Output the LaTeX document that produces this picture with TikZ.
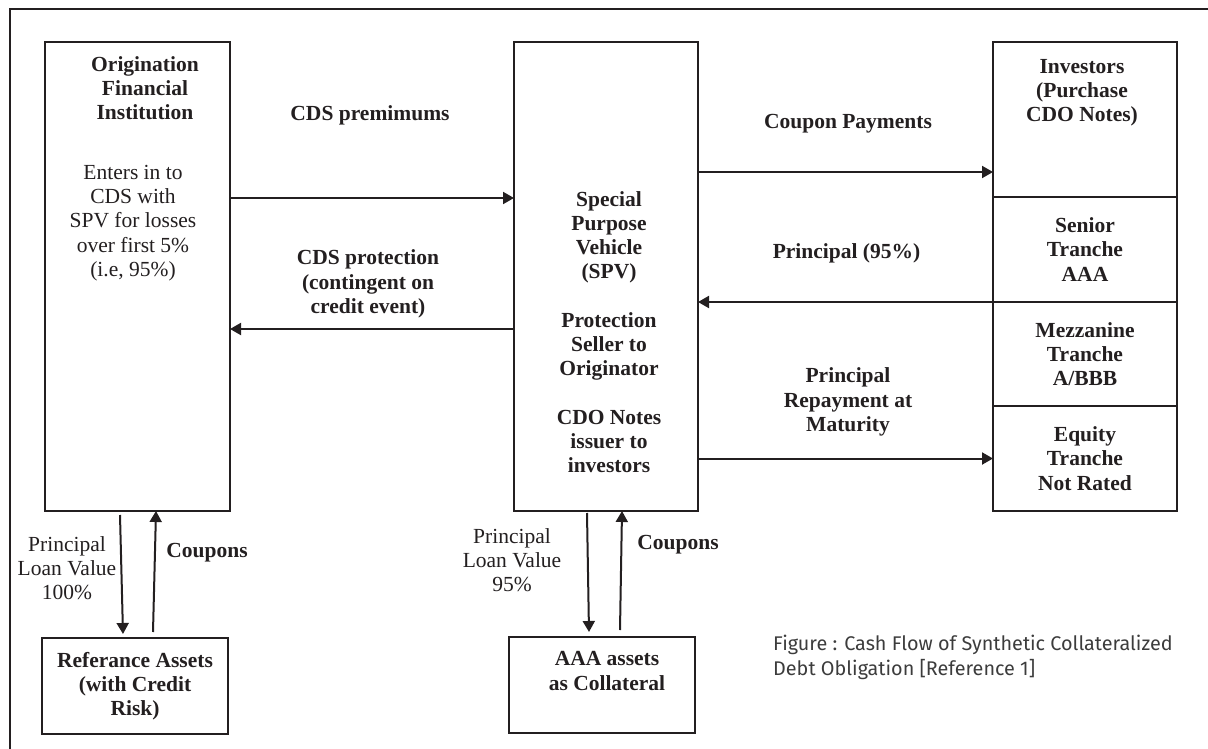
\documentclass[tikz,border=0pt]{standalone}
\usepackage{fontspec}
\setmainfont{Liberation Serif}
\newfontfamily\capfont{Fira Sans}
\usetikzlibrary{arrows.meta,positioning,calc}
\definecolor{ink}{RGB}{35,31,32}
\definecolor{capgray}{RGB}{60,60,60}
\newcommand{\diagfont}{\fontsize{21.5}{24.2}\selectfont}

\begin{document}
\begin{tikzpicture}[
    x=1pt, y=-1pt,
    box/.style={rectangle, draw=ink, line width=2.2pt, outer sep=0pt, inner sep=0pt, align=center, font=\diagfont\bfseries, text=ink},
    txt/.style={align=center, font=\diagfont, text=ink, inner sep=0pt},
    lbl/.style={align=center, font=\diagfont\bfseries, text=ink, inner sep=0pt},
    flow/.style={-{Triangle[length=11pt,width=12pt]}, line width=2pt, draw=ink}
]
\useasboundingbox (0,0) rectangle (1208,749);

% Frame
\draw[line width=2.2pt, draw=ink] (10,749) -- (10,9) -- (1208,9);

% Main boxes
\node[box, minimum width=185pt, minimum height=469pt] (orig) at (137.5,276.5) {};
\node[box, minimum width=184pt, minimum height=469pt] (spv) at (606,276.5) {};
\node[box, minimum width=184pt, minimum height=155pt, anchor=north west] (inv) at (993,42) {};
\node[box, minimum width=184pt, minimum height=105pt, below=0pt of inv] (senior) {Senior\\Tranche\\AAA};
\node[box, minimum width=184pt, minimum height=104pt, below=0pt of senior] (mezz) {Mezzanine\\Tranche\\A/BBB};
\node[box, minimum width=184pt, minimum height=105pt, below=0pt of mezz] (equity) {Equity\\Tranche\\Not Rated};
\node[box, minimum width=186pt, minimum height=96pt] (ref) at (135,686) {Referance Assets\\(with Credit\\Risk)};
\node[box, minimum width=186pt, minimum height=96pt] (aaa) at (602,685) {};

% Box texts
\node[lbl] (origtitle) at (145,88) {Origination\\Financial\\Institution};
\node[txt] (origbody) at (133,223) {Enters in to\\CDS with\\SPV for losses\\over first 5\%\\(i.e, 95\%)};
\node[lbl] (spvtext) at (609,332) {Special\\Purpose\\Vehicle\\(SPV)\\[24.2pt]Protection\\Seller to\\Originator\\[24.2pt]CDO Notes\\issuer to\\investors};
\node[lbl] (invtext) at (1082,93) {Investors\\(Purchase\\CDO Notes)};
\node[lbl] (aaatext) at (607,671) {AAA assets\\as Collateral};

% Arrows
\draw[flow] ([yshift=78.5pt]orig.east) -- ([yshift=78.5pt]spv.west);
\draw[flow] ([yshift=-52.5pt]spv.west) -- ([yshift=-52.5pt]orig.east);
\draw[flow] ([yshift=104.5pt]spv.east) -- ([yshift=-52.5pt]inv.west);
\draw[flow] (senior.south west) -- (spv.east |- senior.south west);
\draw[flow] (spv.east |- equity.west) -- (equity.west);
\draw[flow] ([xshift=-17.5pt,yshift=-4pt]orig.south) -- ([xshift=-12pt,yshift=4pt]ref.north);
\draw[flow] ([xshift=18pt,yshift=6pt]ref.north) -- ([xshift=18.5pt]orig.south);
\draw[flow] ([xshift=-19pt,yshift=-2pt]spv.south) -- ([xshift=-13pt,yshift=5pt]aaa.north);
\draw[flow] ([xshift=18pt,yshift=7pt]aaa.north) -- ([xshift=16pt]spv.south);

% Annotations
\node[lbl] (premlbl) at (370,115) {CDS premimums};
\node[lbl] (protlbl) at (368,284) {CDS protection\\(contingent on\\credit event)};
\node[lbl] (couplbl) at (848,124) {Coupon Payments};
\node[lbl] (princlbl) at (846.5,253) {Principal (95\%)};
\node[lbl] (repaylbl) at (848,402) {Principal\\Repayment at\\Maturity};
\node[txt] (loanA) at (67,568) {Principal\\Loan Value\\100\%};
\node[lbl] (coupA) at (207,553) {Coupons};
\node[txt] (loanB) at (512,560) {Principal\\Loan Value\\95\%};
\node[lbl] (coupB) at (678,545) {Coupons};
\node[anchor=north west, align=left, inner sep=0pt, text=capgray, font=\capfont\fontsize{19.8}{25}\selectfont] (caption) at (773,635) {Figure : Cash Flow of Synthetic Collateralized\\Debt Obligation [Reference 1]};

\end{tikzpicture}
\end{document}
